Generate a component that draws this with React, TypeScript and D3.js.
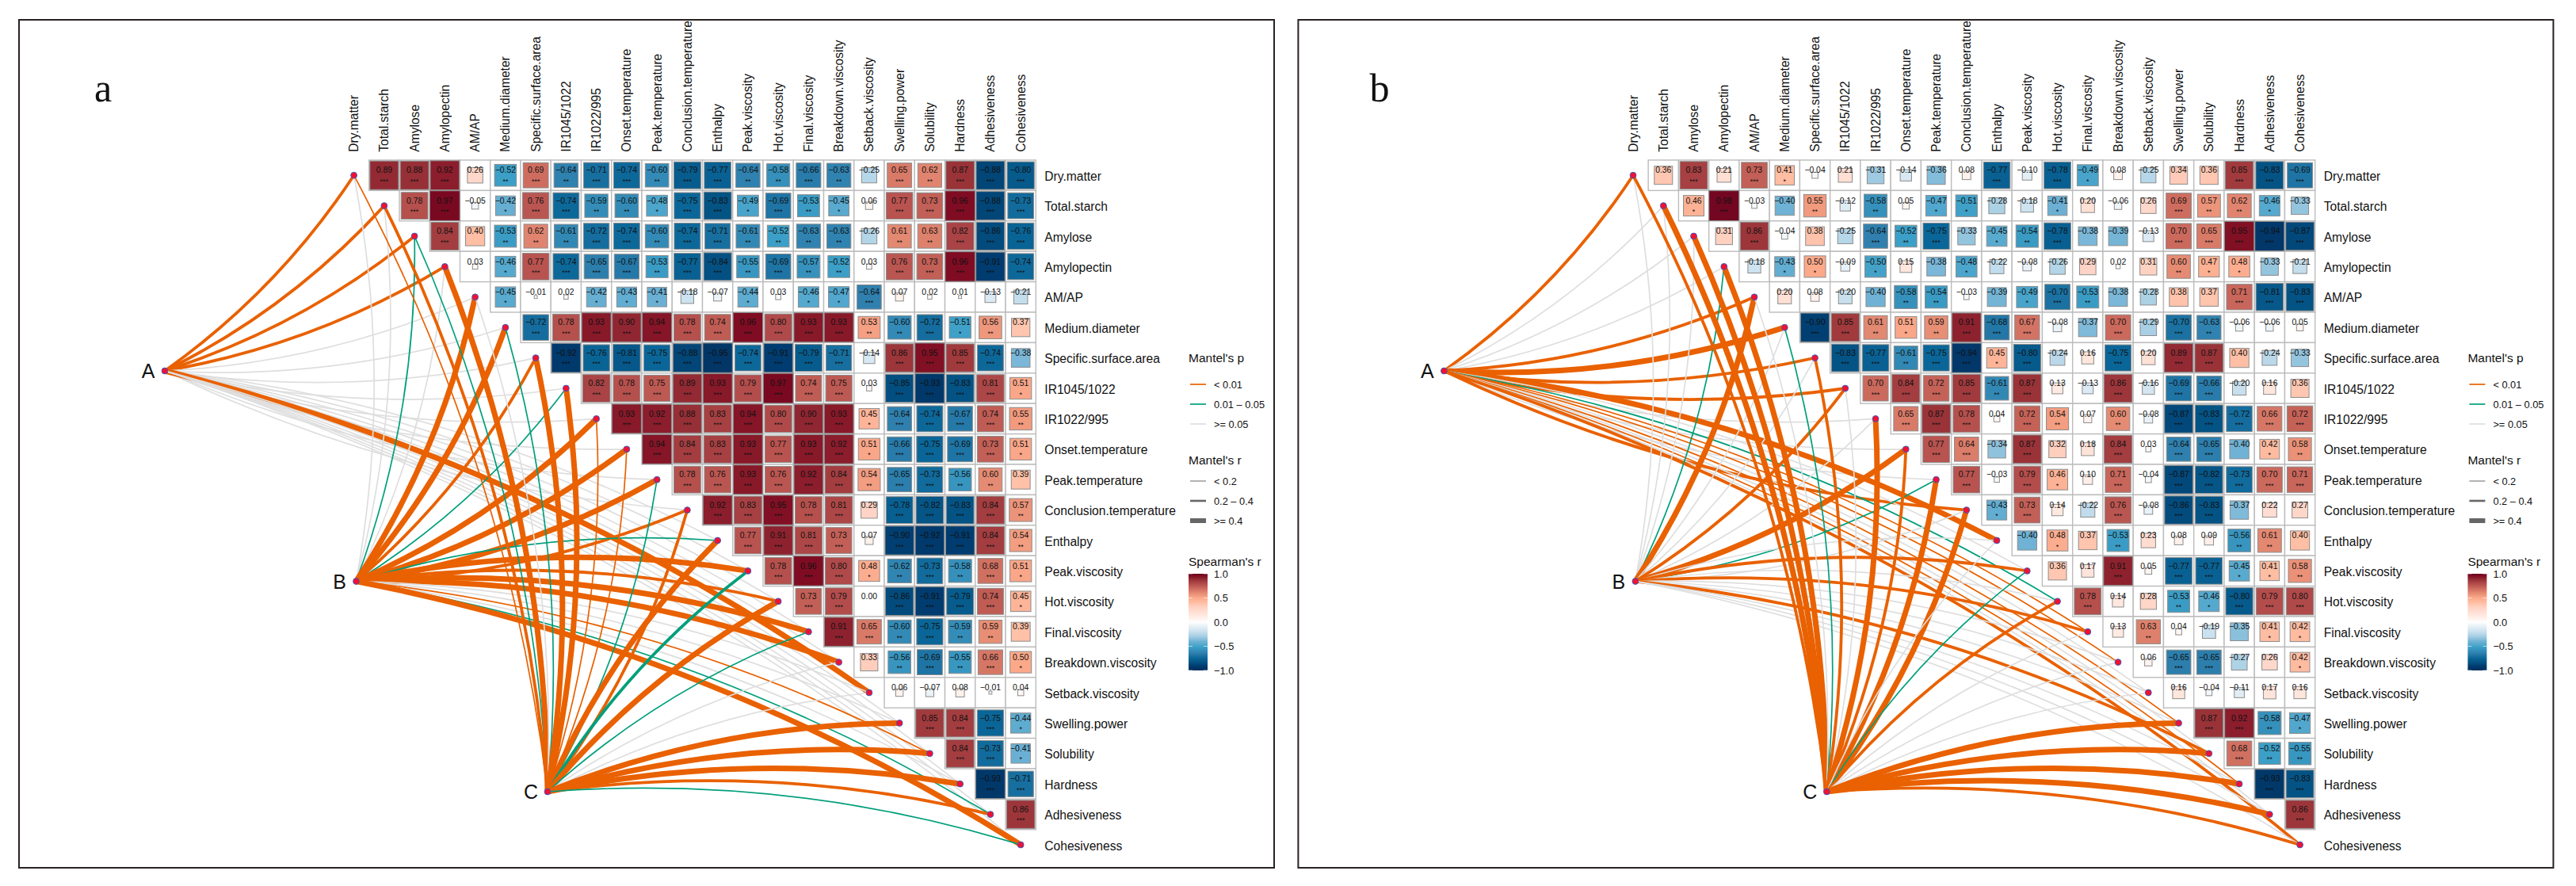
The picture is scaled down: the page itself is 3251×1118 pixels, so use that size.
import React from "react";
import * as d3 from "d3";

const labels = [
  "Dry.matter", "Total.starch", "Amylose", "Amylopectin", "AM/AP", "Medium.diameter",
  "Specific.surface.area", "IR1045/1022", "IR1022/995", "Onset.temperature", "Peak.temperature",
  "Conclusion.temperature", "Enthalpy", "Peak.viscosity", "Hot.viscosity", "Final.viscosity",
  "Breakdown.viscosity", "Setback.viscosity", "Swelling.power", "Solubility", "Hardness",
  "Adhesiveness", "Cohesiveness",
];
const sources = ["A", "B", "C"];

// upper triangle, one row per variable, first value is the column right after the diagonal
const corrA: number[][] = [
  [0.89, 0.88, 0.92, 0.26, -0.52, 0.69, -0.636, -0.71, -0.74, -0.6, -0.79, -0.77, -0.636, -0.58, -0.66, -0.63, -0.25, 0.65, 0.62, 0.87, -0.88, -0.8],
  [0.78, 0.97, -0.05, -0.42, 0.76, -0.74, -0.59, -0.6, -0.48, -0.75, -0.83, -0.49, -0.69, -0.53, -0.45, 0.06, 0.77, 0.73, 0.96, -0.88, -0.73],
  [0.84, 0.4, -0.53, 0.62, -0.61, -0.72, -0.74, -0.6, -0.74, -0.71, -0.61, -0.52, -0.63, -0.63, -0.26, 0.61, 0.63, 0.82, -0.86, -0.76],
  [0.03, -0.46, 0.77, -0.74, -0.65, -0.67, -0.53, -0.77, -0.84, -0.55, -0.69, -0.57, -0.52, 0.03, 0.76, 0.73, 0.96, -0.91, -0.74],
  [-0.45, -0.01, 0.02, -0.42, -0.43, -0.41, -0.18, -0.07, -0.44, 0.03, -0.46, -0.47, -0.64, 0.07, 0.02, 0.01, -0.13, -0.21],
  [-0.72, 0.78, 0.93, 0.9, 0.94, 0.78, 0.74, 0.96, 0.8, 0.93, 0.93, 0.53, -0.6, -0.72, -0.51, 0.56, 0.37],
  [-0.92, -0.76, -0.81, -0.75, -0.88, -0.95, -0.74, -0.91, -0.79, -0.71, -0.14, 0.86, 0.95, 0.85, -0.74, -0.38],
  [0.82, 0.78, 0.75, 0.89, 0.93, 0.79, 0.97, 0.74, 0.75, 0.03, -0.85, -0.93, -0.83, 0.81, 0.51],
  [0.93, 0.92, 0.88, 0.83, 0.94, 0.8, 0.9, 0.93, 0.45, -0.64, -0.74, -0.67, 0.74, 0.55],
  [0.94, 0.84, 0.83, 0.93, 0.77, 0.93, 0.92, 0.51, -0.66, -0.75, -0.69, 0.73, 0.51],
  [0.78, 0.76, 0.93, 0.76, 0.92, 0.84, 0.54, -0.65, -0.73, -0.56, 0.6, 0.39],
  [0.92, 0.83, 0.95, 0.78, 0.81, 0.29, -0.78, -0.82, -0.83, 0.84, 0.57],
  [0.77, 0.91, 0.81, 0.73, 0.07, -0.9, -0.92, -0.91, 0.84, 0.54],
  [0.78, 0.96, 0.8, 0.48, -0.62, -0.73, -0.58, 0.68, 0.51],
  [0.73, 0.79, 0.0, -0.86, -0.91, -0.79, 0.74, 0.45],
  [0.91, 0.65, -0.6, -0.75, -0.59, 0.59, 0.39],
  [0.33, -0.56, -0.69, -0.55, 0.66, 0.5],
  [0.06, -0.07, 0.08, -0.01, 0.04],
  [0.85, 0.84, -0.75, -0.44],
  [0.84, -0.73, -0.41],
  [-0.93, -0.71],
  [0.86],
];

const corrB: number[][] = [
  [0.36, 0.83, 0.21, 0.73, 0.41, -0.04, 0.21, -0.31, -0.14, -0.36, 0.08, -0.77, -0.1, -0.78, -0.49, 0.08, -0.25, 0.34, 0.36, 0.85, -0.83, -0.69],
  [0.46, 0.98, -0.03, -0.4, 0.55, -0.12, -0.58, 0.05, -0.47, -0.51, -0.28, -0.18, -0.41, 0.2, -0.06, 0.26, 0.69, 0.57, 0.62, -0.46, -0.33],
  [0.31, 0.86, -0.04, 0.38, -0.25, -0.64, -0.52, -0.75, -0.33, -0.45, -0.54, -0.78, -0.38, -0.39, -0.13, 0.7, 0.65, 0.95, -0.94, -0.87],
  [-0.18, -0.43, 0.5, -0.09, -0.5, 0.15, -0.38, -0.48, -0.22, -0.08, -0.26, 0.29, 0.02, 0.31, 0.6, 0.47, 0.48, -0.33, -0.21],
  [0.2, 0.08, -0.2, -0.4, -0.58, -0.54, -0.03, -0.39, -0.49, -0.7, -0.53, -0.38, -0.28, 0.38, 0.37, 0.71, -0.81, -0.83],
  [-0.9, 0.85, 0.61, 0.51, 0.59, 0.91, -0.68, 0.67, -0.08, -0.37, 0.7, -0.29, -0.7, -0.63, -0.06, -0.06, 0.05],
  [-0.83, -0.77, -0.61, -0.75, -0.94, 0.45, -0.8, -0.24, 0.16, -0.75, 0.2, 0.89, 0.87, 0.4, -0.24, -0.33],
  [0.7, 0.84, 0.72, 0.85, -0.61, 0.87, 0.13, -0.13, 0.86, -0.16, -0.69, -0.66, -0.2, 0.16, 0.36],
  [0.65, 0.87, 0.78, 0.04, 0.72, 0.54, 0.07, 0.6, -0.08, -0.87, -0.83, -0.72, 0.66, 0.72],
  [0.77, 0.64, -0.34, 0.87, 0.32, 0.18, 0.84, 0.03, -0.64, -0.65, -0.4, 0.42, 0.58],
  [0.77, -0.03, 0.79, 0.46, 0.1, 0.71, -0.04, -0.87, -0.82, -0.73, 0.7, 0.71],
  [-0.43, 0.73, 0.14, -0.22, 0.76, -0.08, -0.86, -0.83, -0.37, 0.22, 0.27],
  [-0.4, 0.48, 0.37, -0.53, 0.23, 0.08, 0.09, -0.56, 0.61, 0.4],
  [0.36, 0.17, 0.91, 0.05, -0.77, -0.77, -0.45, 0.41, 0.58],
  [0.78, 0.14, 0.28, -0.53, -0.46, -0.8, 0.79, 0.8],
  [0.13, 0.63, 0.04, -0.19, -0.35, 0.41, 0.42],
  [0.06, -0.65, -0.65, -0.27, 0.26, 0.42],
  [0.16, -0.04, -0.11, 0.17, 0.16],
  [0.87, 0.92, -0.58, -0.47],
  [0.68, -0.52, -0.55],
  [-0.93, -0.83],
  [0.86],
];

// Mantel links per source, in label order: n = p >= 0.05, g = 0.01-0.05, o = < 0.01; digit = r class
const linksAA = ["o2", "o2", "o2", "o2", "n", "n", "n", "n", "n", "n", "n", "n", "n", "n", "n", "n", "n", "o3", "n", "n", "n", "n", "n"];
const linksAB = ["n", "n", "g1", "n", "o3", "o3", "o2", "g1", "o3", "o3", "o3", "o2", "g1", "o3", "o2", "o3", "o3", "n", "n", "o1", "n", "g1", "o3"];
const linksAC = ["o1", "o2", "g1", "o3", "n", "g1", "o3", "o3", "o1", "o1", "g1", "o2", "o3", "g2", "o3", "g1", "n", "n", "o3", "o3", "o3", "o2", "g1"];
const linksBA = ["o2", "n", "n", "n", "o2", "o3", "o2", "o2", "n", "n", "n", "o2", "o3", "n", "g1", "o1", "o1", "n", "o1", "n", "o1", "n", "o2"];
const linksBB = ["n", "n", "n", "g1", "o3", "n", "n", "o2", "n", "o3", "g1", "n", "n", "o2", "n", "o2", "n", "n", "n", "o2", "n", "n", "n"];
const linksBC = ["o2", "o3", "o3", "o3", "n", "g1", "o2", "n", "o3", "o2", "o3", "o3", "n", "g1", "o2", "n", "n", "n", "o3", "o3", "o3", "o3", "o2"];

const pLegend = ["< 0.01", "0.01 \u2013 0.05", ">= 0.05"];
const rLegend = ["< 0.2", "0.2 \u2013 0.4", ">= 0.4"];
const barTicks = [1, 0.5, 0, -0.5, -1];

const FONT = "'Liberation Sans', Arial, sans-serif";
const ORANGE = "#e96100";
const GREEN = "#009f7b";
const GREY = "#dedede";
const linkColor: Record<string, string> = { o: ORANGE, g: GREEN, n: GREY };
const linkWidth: Record<string, number> = { "1": 1.7, "2": 3.8, "3": 7 };

const fillScale = d3
  .scaleLinear<string>()
  .domain([-1, -0.92, -0.85, -0.75, -0.64, -0.52, -0.4, -0.3, -0.2, -0.05, 0, 0.05, 0.2, 0.3, 0.4, 0.5, 0.6, 0.65, 0.73, 0.8, 0.87, 0.96, 1])
  .range(["#03305f", "#00396c", "#034e80", "#0a6698", "#2f80ae", "#3b9fc7", "#6fb2d5", "#a4cde3", "#c8e0ee", "#f1f6fa", "#ffffff", "#fff5f1", "#ffe0d5", "#ffd3c4", "#ffbfa5", "#fca98a", "#e58b73", "#d97a68", "#c25f56", "#b04a4a", "#993338", "#7f0c22", "#67001f"]);

const x = d3.scaleBand<string>().domain(labels).range([427.5, 1307.3]);
const y = d3.scaleBand<string>().domain(labels).range([202, 1085.2]);
const srcX = d3.scalePoint<string>().domain(sources).range([208, 691]);
const srcY = d3.scalePoint<string>().domain(sources).range([468, 999]);
const barY = d3.scaleLinear().domain([-1, 1]).range([846, 724]);
const cw = x.bandwidth();
const ch = y.bandwidth();

const fmt = (v: number) => v.toFixed(2).replace("-", "\u2212");
const stars = (v: number) => {
  const a = Math.abs(v);
  return a >= 0.64 ? "***" : a >= 0.515 ? "**" : a >= 0.405 ? "*" : "";
};

const linkPath = (sx: number, sy: number, tx: number, ty: number, idx: number) => {
  const dx = tx - sx;
  const dy = ty - sy;
  const side = idx <= 11 ? 1 : -1;
  const k = 0.094 * side;
  const p = d3.path();
  p.moveTo(sx, sy);
  p.quadraticCurveTo((sx + tx) / 2 - dy * k, (sy + ty) / 2 + dx * k, tx, ty);
  return p.toString();
};

const Panel = ({ corr, links, id }: { corr: number[][]; links: string[][]; id: string }) => (
  <g>
    {corr.map((row, i) =>
      row.map((v, k) => {
        const col = labels[i + 1 + k];
        return (
          <rect key={`g${i}-${k}`} x={x(col)} y={y(labels[i])} width={cw} height={ch} fill="#fff" stroke="#bcbcbc" strokeWidth={1.4} />
        );
      })
    )}
    {corr.map((row, i) =>
      row.map((v, k) => {
        const col = labels[i + 1 + k];
        const size = Math.sqrt(Math.abs(v)) * cw;
        const cx = (x(col) as number) + cw / 2;
        const cy = (y(labels[i]) as number) + ch / 2;
        return (
          <g key={`c${i}-${k}`}>
            <rect x={cx - size / 2} y={cy - size / 2} width={size} height={size} fill={fillScale(v)} stroke="#8c8c8c" strokeWidth={1} />
            <text x={cx} y={cy - 6.4} textAnchor="middle" dominantBaseline="central" fontSize={10.4} fill="#111">
              {fmt(v)}
            </text>
            <text x={cx} y={cy + 10.6} textAnchor="middle" fontSize={9} fill="#111">
              {stars(v)}
            </text>
          </g>
        );
      })
    )}
    {sources.map((s, si) =>
      links[si].map((tok, t) => (
        <path
          key={`${s}${t}`}
          d={linkPath(srcX(s) as number, srcY(s) as number, (x(labels[t]) as number) + cw / 2, (y(labels[t]) as number) + ch / 2, t)}
          fill="none"
          stroke={linkColor[tok[0]]}
          strokeWidth={linkWidth[tok[1] || "1"]}
        />
      ))
    )}
    {labels.map((l) => (
      <circle key={l} cx={(x(l) as number) + cw / 2} cy={(y(l) as number) + ch / 2} r={3.9} fill="#f5102f" stroke="#3a5cc0" strokeWidth={1} />
    ))}
    {sources.map((s) => (
      <g key={s}>
        <circle cx={srcX(s)} cy={srcY(s)} r={3.9} fill="#f5102f" stroke="#3a5cc0" strokeWidth={1} />
        <text x={(srcX(s) as number) - 21} y={srcY(s)} textAnchor="middle" dominantBaseline="central" fontSize={25} fill="#111">
          {s}
        </text>
      </g>
    ))}
    {labels.map((l) => (
      <text key={`t${l}`} transform={`translate(${(x(l) as number) + cw / 2},191.7) rotate(-90)`} dominantBaseline="central" fontSize={15.6} fill="#111">
        {l}
      </text>
    ))}
    {labels.map((l) => (
      <text key={`r${l}`} x={1318.3} y={(y(l) as number) + ch / 2 + 1} dominantBaseline="central" fontSize={15.6} fill="#111">
        {l}
      </text>
    ))}
    <text x={1500} y={451} dominantBaseline="central" fontSize={15.5} fill="#111">
      Mantel's p
    </text>
    {pLegend.map((t, i) => (
      <g key={t}>
        <line x1={1502} x2={1522} y1={485 + i * 25} y2={485 + i * 25} stroke={[ORANGE, GREEN, GREY][i]} strokeWidth={1.7} />
        <text x={1532} y={485 + i * 25} dominantBaseline="central" fontSize={12.8} fill="#111">
          {t}
        </text>
      </g>
    ))}
    <text x={1500} y={580} dominantBaseline="central" fontSize={15.5} fill="#111">
      Mantel's r
    </text>
    {rLegend.map((t, i) => (
      <g key={t}>
        <line x1={1502} x2={1522} y1={607 + i * 25} y2={607 + i * 25} stroke="#666" strokeWidth={[1, 2.6, 6][i]} />
        <text x={1532} y={607 + i * 25} dominantBaseline="central" fontSize={12.8} fill="#111">
          {t}
        </text>
      </g>
    ))}
    <text x={1500} y={708} dominantBaseline="central" fontSize={15.5} fill="#111">
      Spearman's r
    </text>
    <defs>
      <linearGradient id={id} x1="0" x2="0" y1="0" y2="1">
        {fillScale.domain().slice().reverse().map((d) => (
          <stop key={d} offset={(1 - d) / 2} stopColor={fillScale(d)} />
        ))}
      </linearGradient>
    </defs>
    <rect x={1500} y={barY(1)} width={24} height={barY(-1) - barY(1)} fill={`url(#${id})`} />
    {barTicks.map((t) => (
      <g key={t}>
        <line x1={1500} x2={1505} y1={barY(t)} y2={barY(t)} stroke="#fff" strokeWidth={0.6} />
        <line x1={1519} x2={1524} y1={barY(t)} y2={barY(t)} stroke="#fff" strokeWidth={0.6} />
        <text x={1532} y={barY(t)} dominantBaseline="central" fontSize={12.8} fill="#111">
          {t === 0 ? "0.0" : t.toFixed(1).replace("-", "\u2212")}
        </text>
      </g>
    ))}
  </g>
);

export default function App() {
  return (
    <svg
      width={3251}
      height={1118}
      viewBox="0 0 3251 1118"
      fontFamily={FONT}
      style={{ position: "absolute", left: 0, top: 0, background: "#fff" }}
    >
      <rect x={24} y={25} width={1584} height={1070} fill="#fff" stroke="#2a2222" strokeWidth={2} />
      <rect x={1638.4} y={25} width={1584} height={1070} fill="#fff" stroke="#2a2222" strokeWidth={2} />
      <text x={130} y={128} textAnchor="middle" fontFamily="'Liberation Serif', serif" fontSize={50} fill="#111">
        a
      </text>
      <text x={1741} y={128} textAnchor="middle" fontFamily="'Liberation Serif', serif" fontSize={50} fill="#111">
        b
      </text>
      <Panel corr={corrA} links={[linksAA, linksAB, linksAC]} id="barA" />
      <g transform="translate(1614.4,0)">
        <Panel corr={corrB} links={[linksBA, linksBB, linksBC]} id="barB" />
      </g>
    </svg>
  );
}
